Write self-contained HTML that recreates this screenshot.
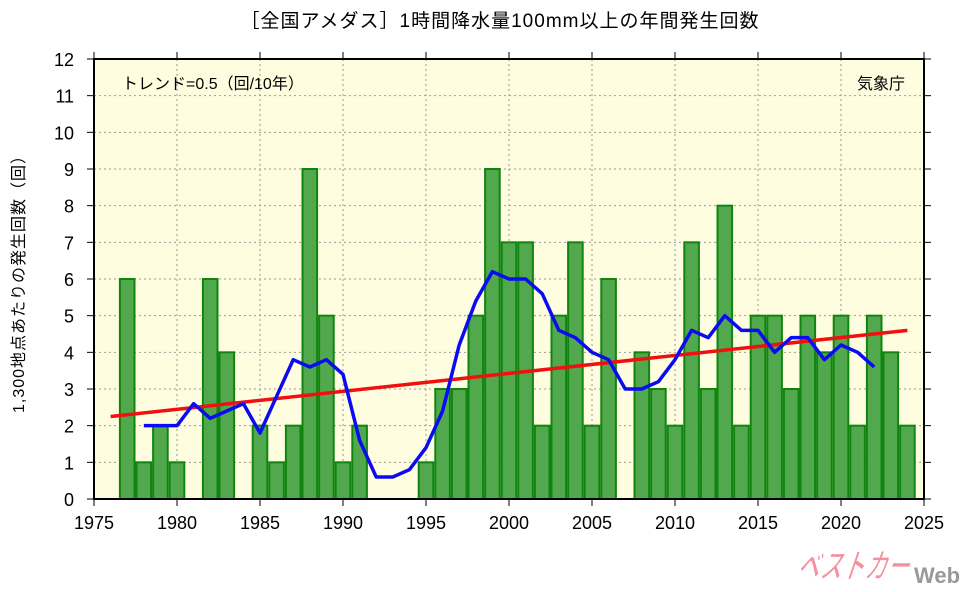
<!DOCTYPE html>
<html><head><meta charset="utf-8">
<style>
body{margin:0;background:#fff;width:960px;height:587px;overflow:hidden}
svg text{font-family:"Liberation Sans","Noto Sans CJK JP",sans-serif}
</style></head><body>
<svg id="s" width="960" height="587" xmlns="http://www.w3.org/2000/svg"></svg>
<script>
const s=document.getElementById('s');
const L=94,R=924,T=59,B=499;
const X=y=>L+(y-1975)*(R-L)/50, Y=v=>B-v*(B-T)/12;
const d={1976:0,1977:6,1978:1,1979:2,1980:1,1981:0,1982:6,1983:4,1984:0,1985:2,1986:1,1987:2,1988:9,1989:5,1990:1,1991:2,1992:0,1993:0,1994:0,1995:1,1996:3,1997:3,1998:5,1999:9,2000:7,2001:7,2002:2,2003:5,2004:7,2005:2,2006:6,2007:0,2008:4,2009:3,2010:2,2011:7,2012:3,2013:8,2014:2,2015:5,2016:5,2017:3,2018:5,2019:4,2020:5,2021:2,2022:5,2023:4,2024:2};
let h='';
h+=`<rect x="${L}" y="${T}" width="${R-L}" height="${B-T}" fill="#fffde0"/>`;
for(let v=1;v<12;v++)h+=`<line x1="${L}" x2="${R}" y1="${Y(v)}" y2="${Y(v)}" stroke="#999" stroke-dasharray="2,3"/>`;
for(let y=1980;y<2025;y+=5)h+=`<line x1="${X(y)}" x2="${X(y)}" y1="${T}" y2="${B}" stroke="#999" stroke-dasharray="2,3"/>`;
for(const k in d){const v=d[k];if(!v)continue;const x=X(+k-0.5),w=X(+k+0.5)-x;
h+=`<rect x="${x+1}" y="${Y(v)}" width="${w-2}" height="${B-Y(v)}" fill="#52a84c" stroke="#0f850f" stroke-width="2"/>`;}
h+=`<line x1="${X(1976)}" y1="${Y(2.25)}" x2="${X(2024)}" y2="${Y(4.6)}" stroke="#f01010" stroke-width="3.5"/>`;
let p=[];for(let y=1978;y<=2022;y++){let m=0;for(let j=-2;j<=2;j++)m+=d[y+j];p.push(X(y)+','+Y(m/5));}
h+=`<polyline points="${p.join(' ')}" fill="none" stroke="#0a0af5" stroke-width="3.5" stroke-linejoin="round"/>`;
h+=`<rect x="${L}" y="${T}" width="${R-L}" height="${B-T}" fill="none" stroke="#000" stroke-width="2"/>`;
for(let v=0;v<=12;v++){h+=`<line x1="${L-7}" x2="${L}" y1="${Y(v)}" y2="${Y(v)}" stroke="#000"/><line x1="${R}" x2="${R+7}" y1="${Y(v)}" y2="${Y(v)}" stroke="#000"/>`;
h+=`<text x="${L-20}" y="${Y(v)+7}" font-size="18" text-anchor="end">${v}</text>`;}
for(let y=1975;y<=2025;y+=5){h+=`<line x1="${X(y)}" x2="${X(y)}" y1="${T-7}" y2="${T}" stroke="#000"/><line x1="${X(y)}" x2="${X(y)}" y1="${B}" y2="${B+7}" stroke="#000"/>`;
h+=`<text x="${X(y)}" y="529" font-size="18" text-anchor="middle">${y}</text>`;}
h+=`<text x="500" y="27" font-size="19" text-anchor="middle" letter-spacing="1">［全国アメダス］1時間降水量100mm以上の年間発生回数</text>`;
h+=`<text x="122" y="89" font-size="16">トレンド=0.5（回/10年）</text>`;
h+=`<text x="905" y="89" font-size="16" text-anchor="end">気象庁</text>`;
h+=`<text transform="translate(24,280) rotate(-90)" font-size="16" text-anchor="middle" letter-spacing="1">1,300地点あたりの発生回数（回）</text>`;
h+=`<text x="798" y="578" font-size="34" font-weight="bold" fill="#f4909e" stroke="#fff" stroke-width="1.5" font-style="italic" transform="skewX(-10) translate(100,0)" textLength="112" lengthAdjust="spacingAndGlyphs">ベストカー</text><text x="914" y="583" font-size="22" font-weight="bold" fill="#999">Web</text>`;
s.innerHTML=h;
</script>
</body></html>
